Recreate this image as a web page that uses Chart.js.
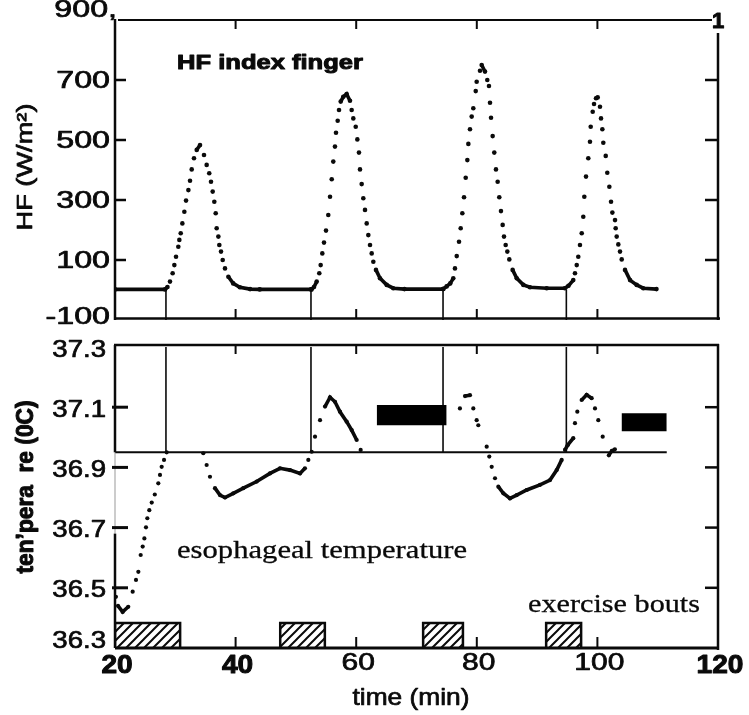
<!DOCTYPE html>
<html>
<head>
<meta charset="utf-8">
<script src="https://cdn.jsdelivr.net/npm/chart.js@4.4.0/dist/chart.umd.min.js"></script>
<style>
  html, body { margin: 0; padding: 0; background: #fff; }
  #wrap { position: relative; width: 749px; height: 715px; }
  #wrap canvas { position: absolute; left: 0; top: 0; }
</style>
</head>
<body>
<div id="wrap">
  <canvas id="hfChart" width="749" height="715"></canvas>
  <canvas id="tempChart" width="749" height="715"></canvas>
</div>
<script>
// axes
const timeTicks = [20, 40, 60, 80, 100, 120];
const timeBold = [true, true, false, false, false, true];
const hfTicks = [-100, 100, 300, 500, 700, 900];
const hfTickText = ['-100', '100', '300', '500', '700', '900,'];
const tempTicks = [36.3, 36.5, 36.7, 36.9, 37.1, 37.3];

// heat flux index finger (W/m2)
const hfTime = [20, 28.3, 28.7, 29.12, 29.56, 29.84, 30.12, 30.5, 30.67, 30.9, 31.17, 31.5, 31.78, 32.17, 32.44, 32.72, 33.1, 33.55, 34.1,
  34.76, 35.2, 35.63, 35.92, 36.2, 36.47, 36.7, 36.86, 37.14, 37.3, 37.58, 37.86, 38.24, 38.8, 39.6, 40.7, 42.4, 44, 52.5,
  52.6, 53.0, 53.45, 53.88, 54.11, 54.38, 54.66, 54.99, 55.37, 55.66, 55.94, 56.2, 56.48, 56.65, 56.93, 57.15, 57.43, 57.86, 58.42,
  58.97, 59.25, 59.52, 59.92, 60.19, 60.46, 60.63, 60.91, 61.18, 61.46, 61.74, 62.01, 62.29, 62.57, 62.84, 63.28, 63.95, 65.06, 66.15, 68, 74.4,
  74.45, 75.0, 75.6, 76.1, 76.38, 76.67, 77.05, 77.33, 77.6, 77.88, 78.16, 78.43, 78.6, 78.87, 79.15, 79.42, 79.82, 79.98, 80.53, 80.81,
  81.36, 81.74, 82.02, 82.19, 82.36, 82.63, 82.9, 83.18, 83.46, 83.73, 84.01, 84.29, 84.51, 84.79, 85.06, 85.39, 85.94, 86.62, 87.72, 88.82, 91.59, 94.6,
  95.2, 96.0, 96.28, 96.57, 96.83, 97.11, 97.4, 97.66, 97.83, 98.11, 98.49, 98.77, 98.89, 99.22, 99.44, 99.77, 100.05,
  100.43, 100.6, 100.82, 100.98, 101.38, 101.64, 101.98, 102.26, 102.48, 102.92, 103.03, 103.2, 103.47, 103.75, 104.03, 104.58, 105.41, 106.51, 107.61, 109.8];
const hfFlux = [2, 2, 10, 28, 56, 83, 111, 144, 167, 189, 222, 261, 298, 333, 364, 402, 439, 467, 483,
  450, 417, 389, 361, 328, 294, 256, 206, 178, 150, 128, 100, 72, 44, 22, 9, 3, 2, 2,
  2, 10, 28, 56, 83, 122, 158, 198, 250, 311, 369, 428, 478, 524, 564, 600, 628, 644, 653,
  631, 600, 572, 544, 502, 458, 402, 353, 306, 267, 222, 183, 150, 122, 94, 67, 39, 17, 6, 3, 3,
  4, 12, 22, 39, 72, 113, 161, 206, 256, 309, 374, 433, 487, 536, 578, 606, 663, 694, 731, 750,
  728, 700, 680, 624, 574, 513, 458, 402, 361, 309, 263, 217, 178, 150, 128, 102, 67, 39, 17, 9, 6, 6,
  14, 33, 56, 83, 111, 150, 189, 244, 311, 378, 439, 494, 544, 594, 620, 639, 642,
  611, 572, 536, 491, 447, 391, 344, 294, 258, 233, 206, 178, 152, 128, 102, 67, 33, 17, 6, 3];

// esophageal temperature (deg C); null = trace not visible
const tempTime = [20.15, 20.5, 21.27, 22.2, 22.93, 23.48, 23.87, 24.26, 24.59, 24.87, 25.14, 25.36, 25.69, 26.09, 26.6, 27.18, 27.46, 27.74, 28.13, 28.57,
  31,
  34.64, 35.2, 35.75, 36.58, 37.41, 38.24, 39.62, 41.28, 43.5, 45.7, 47.36, 49.02, 50.68, 51.5, 52.06, 52.62,
  53.17, 54.0, 54.83, 55.66, 56.48, 57.31, 58.42, 59.25, 60.08, 60.74,
  70,
  77.2, 78.04, 78.87, 79.42, 79.98, 80.25,
  81,
  81.64, 82.07, 82.47, 83.02, 83.57, 84.4, 85.5, 86.62, 88.27, 90.48, 92.14, 93.25, 94.08, 94.63, 95.07,
  96.0, 96.28, 96.67, 97.39, 98.22, 99.05, 99.6, 100.15, 100.88,
  101.5,
  101.9, 102.4, 102.9];
const tempValue = [36.47, 36.44, 36.42, 36.437, 36.487, 36.526, 36.553, 36.609, 36.637, 36.664, 36.701, 36.731, 36.758, 36.783, 36.81, 36.847, 36.875, 36.902, 36.925, 36.95,
  null,
  36.947, 36.908, 36.869, 36.831, 36.808, 36.8, 36.814, 36.831, 36.853, 36.88, 36.897, 36.891, 36.88, 36.897, 36.925, 36.952,
  37.002, 37.057, 37.102, 37.133, 37.118, 37.085, 37.052, 37.024, 36.991, 36.958,
  null,
  37.096, 37.137, 37.14, 37.096, 37.057, 37.04,
  null,
  36.969, 36.936, 36.902, 36.864, 36.836, 36.814, 36.797, 36.808, 36.825, 36.842, 36.858, 36.891, 36.925, 36.958, 36.974,
  36.997, 37.047, 37.085, 37.124, 37.141, 37.13, 37.096, 37.057, 37.002,
  null,
  36.94, 36.955, 36.96];

// exercise bouts (min)
const boutStart = [20, 47.4, 71.1, 91.5];
const boutEnd = [30.8, 54.8, 77.7, 97.3];
const boutLevel = 36.383;

// onset lines and scan marks of the original figure
const riseTimes = [28.45, 52.5, 74.4, 94.85];
const boxLevel = 36.95;
const boxEnd = 111.5;
const blotStart = [63.4, 104.0];
const blotEnd = [75.0, 111.5];
const blotLow = [37.04, 37.02];
const blotHigh = [37.107, 37.08];

const INK = '#0a0a0a';

function pts(xs, ys) {
  return xs.map((x, i) => ({ x: x, y: ys[i] }));
}

// steep parts of the recorder trace stay as separate dots
const dotOrLine = c => {
  const dx = Math.abs(c.p1.x - c.p0.x), dy = Math.abs(c.p1.y - c.p0.y);
  return (dy <= 2.1 * dx || Math.hypot(dx, dy) < 5) ? INK : 'rgba(0,0,0,0)';
};

function hatch() {
  const c = document.createElement('canvas');
  c.width = 9; c.height = 9;
  const g = c.getContext('2d');
  g.fillStyle = '#fff';
  g.fillRect(0, 0, 9, 9);
  g.strokeStyle = INK;
  g.lineWidth = 2;
  g.beginPath();
  g.moveTo(-1, 10); g.lineTo(10, -1);
  g.moveTo(-2, 2); g.lineTo(2, -2);
  g.moveTo(7, 11); g.lineTo(11, 7);
  g.stroke();
  return g.createPattern(c, 'repeat');
}

// scanned lettering is wide and heavy: stretch + thin outline
function txt(ctx, s, x, y, o) {
  ctx.save();
  ctx.font = o.font;
  ctx.fillStyle = INK;
  ctx.strokeStyle = INK;
  ctx.lineWidth = o.heavy === undefined ? 0.7 : o.heavy;
  ctx.lineJoin = 'round';
  ctx.textAlign = o.align || 'center';
  ctx.textBaseline = o.base || 'middle';
  ctx.translate(x, y);
  if (o.rot) ctx.rotate(o.rot);
  let sx = o.sx || 1;
  if (o.w) sx = o.w / ctx.measureText(s).width;
  ctx.scale(sx, 1);
  ctx.fillText(s, 0, 0);
  if (ctx.lineWidth > 0) ctx.strokeText(s, 0, 0);
  ctx.restore();
}

function line(ctx, x1, y1, x2, y2, w, col) {
  ctx.save();
  ctx.strokeStyle = col || INK;
  ctx.lineWidth = w;
  ctx.beginPath();
  ctx.moveTo(x1, y1);
  ctx.lineTo(x2, y2);
  ctx.stroke();
  ctx.restore();
}

function segLine(x1, y1, x2, y2, w) {
  return {
    data: [{ x: x1, y: y1 }, { x: x2, y: y2 }],
    showLine: true, borderColor: INK, borderWidth: w, pointRadius: 0
  };
}

const baseOptions = (padding, ymin, ymax) => ({
  responsive: false,
  devicePixelRatio: 1,
  animation: false,
  events: [],
  layout: { padding: padding },
  plugins: { legend: { display: false }, tooltip: { enabled: false } },
  scales: {
    x: { type: 'linear', min: 20, max: 120, display: false },
    y: { type: 'linear', min: ymin, max: ymax, display: false }
  }
});

// ---- top panel: heat flux
const hfFrame = {
  id: 'hfFrame',
  afterDatasetsDraw(chart) {
    const ctx = chart.ctx;
    const { left, right, top, bottom } = chart.chartArea;
    const xs = chart.scales.x, ys = chart.scales.y;
    line(ctx, left + 3, top, right - 6, top, 2);
    line(ctx, left, top - 1, left, bottom, 2.5);
    line(ctx, left - 1, bottom - 1.5, right + 2, bottom - 1.5, 2.5);
    line(ctx, right, top + 13, right, bottom, 2.5);
    timeTicks.slice(1, 5).forEach(t => {
      const x = xs.getPixelForValue(t);
      line(ctx, x, top, x, top + 9, 2);
      line(ctx, x, bottom - 1.5, x, bottom - 11, 2);
    });
    hfTicks.slice(1, 5).forEach(v => {
      const y = ys.getPixelForValue(v);
      line(ctx, left, y, left + 11, y, 2.5);
      line(ctx, right, y, right - 13, y, 2.5);
    });
    hfTicks.forEach((v, i) => {
      const y = ys.getPixelForValue(v);
      if (v === 900) {
        txt(ctx, hfTickText[i], left + 2, y - 9, { font: '23px "Liberation Sans"', align: 'right', sx: 1.4 });
      } else {
        txt(ctx, hfTickText[i], left - 5, y + (v === -100 ? -2 : 2), { font: '23px "Liberation Sans"', align: 'right', sx: 1.4 });
      }
    });
    txt(ctx, 'HF index finger', 177, 63, { font: 'bold 21px "Liberation Sans"', align: 'left', w: 186, heavy: 0 });
    txt(ctx, 'HF (W/m²)', 26, 167, { font: '22px "Liberation Sans"', rot: -Math.PI / 2, w: 127 });
    txt(ctx, '1', right, top + 2, { font: 'bold 22px "Liberation Sans"', heavy: 0 });
  }
};

new Chart(document.getElementById('hfChart'), {
  type: 'scatter',
  data: {
    datasets: [
      ...riseTimes.map(t => segLine(t, 2, t, -100, 1.6)),
      {
        data: pts(hfTime, hfFlux),
        showLine: true,
        borderColor: INK,
        borderWidth: 3.6,
        pointRadius: 2.3,
        pointBackgroundColor: INK,
        pointBorderWidth: 0,
        segment: { borderColor: dotOrLine }
      }
    ]
  },
  options: baseOptions({ left: 115, right: 31, top: 20, bottom: 395 }, -100, 900),
  plugins: [hfFrame]
});

// ---- bottom panel: esophageal temperature
const tempFrame = {
  id: 'tempFrame',
  afterDatasetsDraw(chart) {
    const ctx = chart.ctx;
    const { left, right, top, bottom } = chart.chartArea;
    const xs = chart.scales.x, ys = chart.scales.y;
    const yBox = ys.getPixelForValue(boxLevel);
    const yGapEnd = ys.getPixelForValue(36.68);
    line(ctx, left - 1, top - 2, right + 1, top - 2, 2.5);
    line(ctx, left, top - 2, left, yBox, 2.5);
    line(ctx, left, yBox, left, yGapEnd, 1, '#999');
    line(ctx, left, yGapEnd, left, bottom, 2.5);
    line(ctx, right, top - 3, right, bottom + 2, 2.5);
    line(ctx, left, bottom, right + 1, bottom, 3);
    timeTicks.slice(1, 5).forEach(t => {
      const x = xs.getPixelForValue(t);
      line(ctx, x, top - 2, x, top + 7, 2);
      line(ctx, x, bottom, x, bottom - 11, 2);
    });
    tempTicks.slice(1, 5).forEach(v => {
      const y = ys.getPixelForValue(v);
      line(ctx, left - 3, y, left + 13, y, 3);
      line(ctx, right, y, right - 13, y, 2.5);
    });
    tempTicks.forEach(v => {
      const y = ys.getPixelForValue(v) + (v === 36.3 ? -7 : 3);
      txt(ctx, v.toFixed(1), 106, y, { font: '24px "Liberation Sans"', align: 'right', sx: 1.15 });
    });
    timeTicks.forEach((t, i) => {
      const x = xs.getPixelForValue(t) + 2;
      if (timeBold[i]) {
        txt(ctx, String(t), x, 666, { font: 'bold 26px "Liberation Sans"', sx: 1.08, heavy: 0 });
      } else {
        txt(ctx, String(t), x, 663, { font: '24px "Liberation Sans"', sx: 1.25 });
      }
    });
    txt(ctx, 'time (min)', 411, 698, { font: '24px "Liberation Sans"', w: 117 });
    txt(ctx, 'ten\u2019pera  re (0C)', 27, 487, { font: 'bold 23px "Liberation Sans"', rot: -Math.PI / 2, w: 173, heavy: 0 });
    txt(ctx, 'esophageal temperature', 177, 558, { font: '26px "Liberation Serif"', align: 'left', base: 'alphabetic', w: 290, heavy: 0.3 });
    txt(ctx, 'exercise bouts', 528, 612, { font: '26px "Liberation Serif"', align: 'left', base: 'alphabetic', w: 172, heavy: 0.3 });
  }
};

const pattern = hatch();

new Chart(document.getElementById('tempChart'), {
  type: 'scatter',
  data: {
    datasets: [
      ...blotStart.map((s, i) => ({
        data: [{ x: s, y: blotLow[i] }, { x: s, y: blotHigh[i] }, { x: blotEnd[i], y: blotHigh[i] }, { x: blotEnd[i], y: blotLow[i] }],
        showLine: true, borderWidth: 0, borderColor: '#000', pointRadius: 0,
        fill: { value: blotLow[i] }, backgroundColor: '#000'
      })),
      segLine(20, boxLevel, boxEnd, boxLevel, 2),
      ...riseTimes.map(t => segLine(t, 37.3, t, boxLevel, 1.6)),
      ...boutStart.map((s, i) => ({
        data: [{ x: s, y: 36.3 }, { x: s, y: boutLevel }, { x: boutEnd[i], y: boutLevel }, { x: boutEnd[i], y: 36.3 }],
        showLine: true, borderColor: INK, borderWidth: 2.5, pointRadius: 0,
        fill: { value: 36.3 }, backgroundColor: pattern
      })),
      {
        data: pts(tempTime, tempValue),
        showLine: true,
        spanGaps: false,
        borderColor: INK,
        borderWidth: 3.6,
        pointRadius: 2.1,
        pointBackgroundColor: INK,
        pointBorderWidth: 0,
        segment: { borderColor: dotOrLine }
      }
    ]
  },
  options: baseOptions({ left: 115, right: 31, top: 347, bottom: 67 }, 36.3, 37.3),
  plugins: [tempFrame]
});
</script>
</body>
</html>
